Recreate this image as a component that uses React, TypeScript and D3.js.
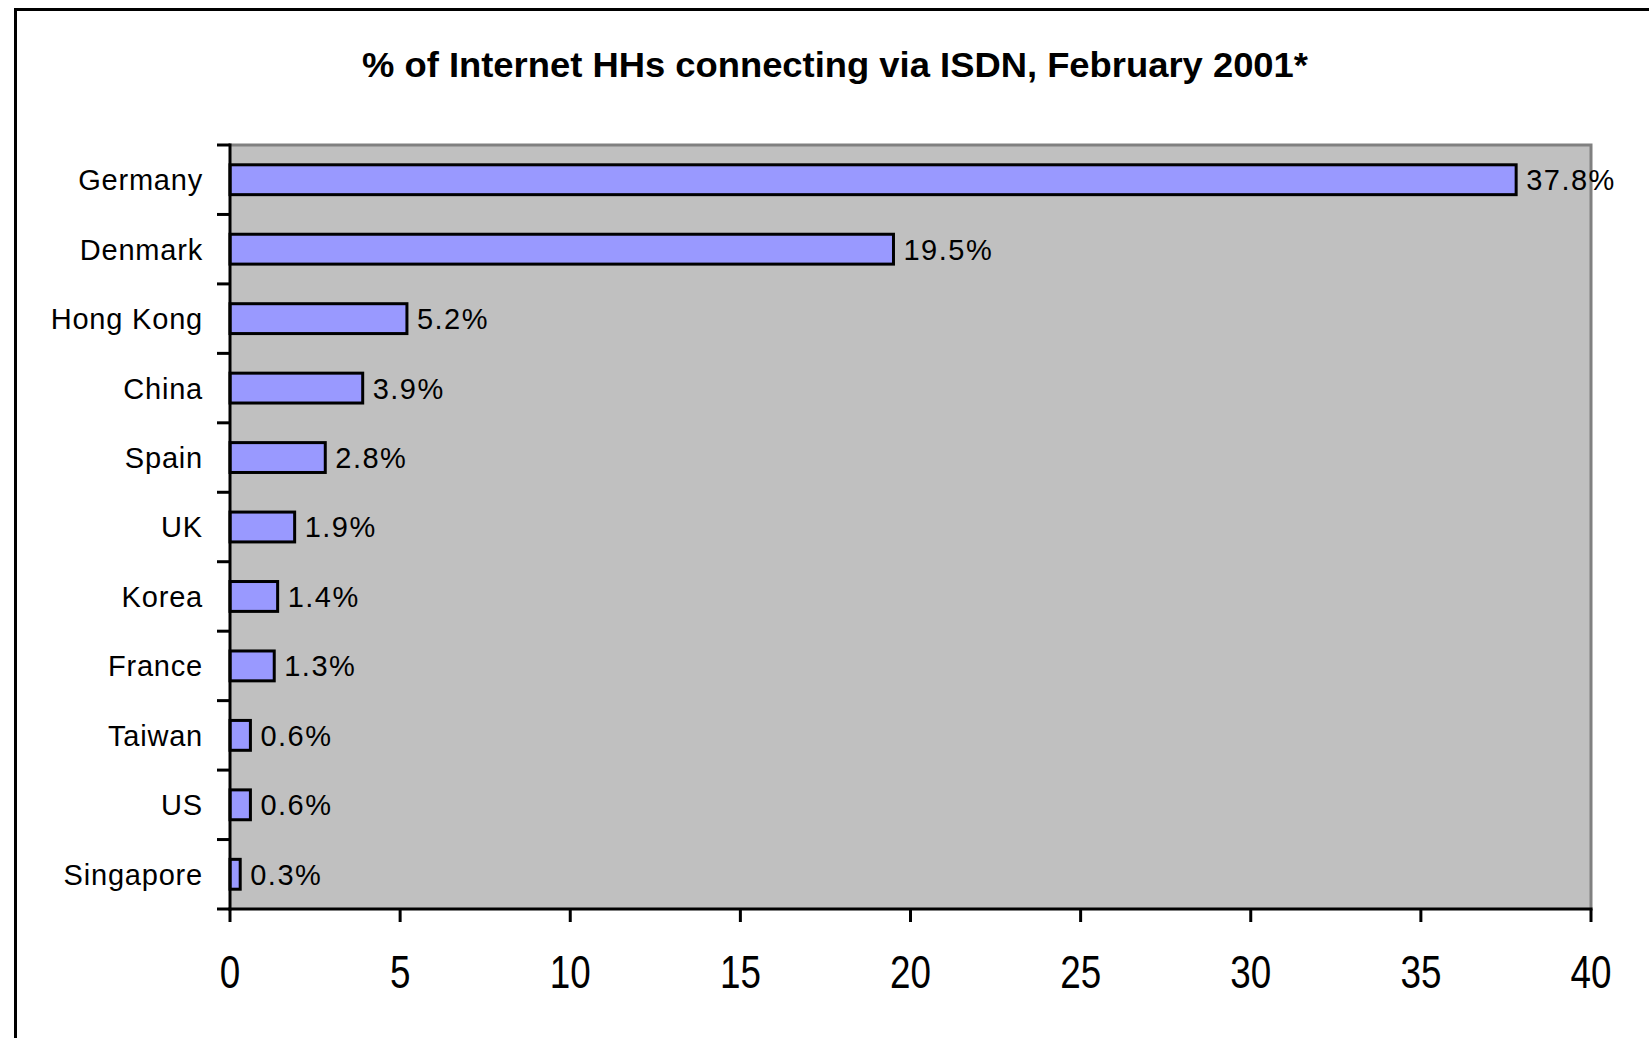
import React from 'react';
import * as d3 from 'd3';

const countries = ['Germany', 'Denmark', 'Hong Kong', 'China', 'Spain', 'UK', 'Korea', 'France', 'Taiwan', 'US', 'Singapore'];
const isdnShare = [37.8, 19.5, 5.2, 3.9, 2.8, 1.9, 1.4, 1.3, 0.6, 0.6, 0.3];
const xTicks = [0, 5, 10, 15, 20, 25, 30, 35, 40];

const title = '% of Internet HHs  connecting via ISDN, February 2001*';

const App: React.FC = () => {
  const width = 1649;
  const height = 1038;
  const plot = { left: 230, right: 1591, top: 145, bottom: 909 };

  const x = d3.scaleLinear().domain([0, 40]).range([plot.left, plot.right]);
  const y = d3.scaleBand<string>().domain(countries).range([plot.top, plot.bottom]).paddingInner(0.57).paddingOuter(0.285);
  const band = d3.scaleBand<string>().domain(countries).range([plot.top, plot.bottom]);

  const labelFont = '"Liberation Sans", Arial, sans-serif';

  return (
    <svg width={width} height={height} style={{ display: 'block', position: 'absolute', left: 0, top: 0 }}>
      <rect x={0} y={0} width={width} height={height} fill="#ffffff" />
      {/* outer frame */}
      <line x1={15} x2={width} y1={9.5} y2={9.5} stroke="#000" strokeWidth={3} />
      <line x1={15.5} x2={15.5} y1={8} y2={height} stroke="#000" strokeWidth={3} />

      <text x={835} y={77} textAnchor="middle" fontFamily={labelFont} fontWeight="bold" fontSize={35}
        textLength={946} lengthAdjust="spacingAndGlyphs" fill="#000">{title}</text>

      {/* plot area */}
      <rect x={plot.left} y={plot.top} width={plot.right - plot.left} height={plot.bottom - plot.top} fill="#c0c0c0" />
      <polyline points={`${plot.left},${plot.top} ${plot.right},${plot.top} ${plot.right},${plot.bottom}`}
        fill="none" stroke="#808080" strokeWidth={3} />

      {countries.map((c, i) => (
        <g key={c}>
          <rect x={x(0)} y={y(c)!} width={x(isdnShare[i]) - x(0)} height={y.bandwidth()}
            fill="#9999ff" stroke="#000" strokeWidth={3} />
          <text x={x(isdnShare[i]) + 10} y={y(c)! + y.bandwidth() / 2} dy="0.36em" fontFamily={labelFont}
            fontSize={29} letterSpacing={1.5} fill="#000">{isdnShare[i].toFixed(1)}%</text>
          <text x={203} y={band(c)! + band.bandwidth() / 2} dy="0.36em" textAnchor="end" fontFamily={labelFont}
            fontSize={29} letterSpacing={0.8} fill="#000">{c}</text>
        </g>
      ))}

      {/* y axis ticks at band edges */}
      {[...countries.map(c => band(c)!), plot.bottom].map((v, i) => (
        <line key={i} x1={217} x2={plot.left} y1={v} y2={v} stroke="#000" strokeWidth={3} />
      ))}
      <line x1={plot.left} x2={plot.left} y1={plot.top - 1.5} y2={plot.bottom + 1.5} stroke="#000" strokeWidth={3} />

      {/* x axis */}
      <line x1={plot.left - 1.5} x2={plot.right + 1.5} y1={plot.bottom} y2={plot.bottom} stroke="#000" strokeWidth={3} />
      {xTicks.map(t => (
        <g key={t}>
          <line x1={x(t)} x2={x(t)} y1={plot.bottom} y2={922} stroke="#000" strokeWidth={3} />
          <text transform={`translate(${x(t)},988) scale(0.8,1)`} textAnchor="middle" fontFamily={labelFont}
            fontSize={46} fill="#000">{t}</text>
        </g>
      ))}
    </svg>
  );
};

export default App;
